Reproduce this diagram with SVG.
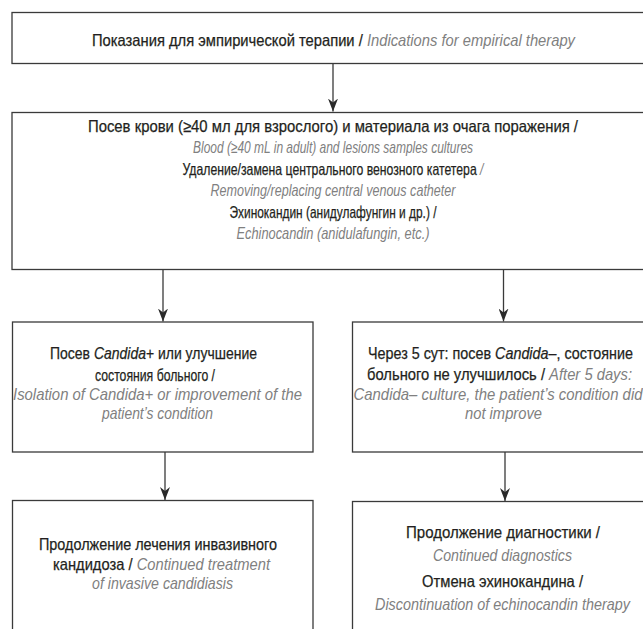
<svg xmlns="http://www.w3.org/2000/svg" width="643" height="629" viewBox="0 0 643 629">
<defs>
<style>
.box{fill:#ffffff;stroke:#3a3a3a;stroke-width:1.3}
.c{stroke:#3a3a3a;stroke-width:1.3;fill:none}
text{font-family:"Liberation Sans Narrow","Liberation Sans",Arial,sans-serif;font-size:16.5px;fill:#231f20;stroke:#231f20;stroke-width:0.25;text-anchor:middle}
.g{fill:#808080;stroke:none;font-style:italic}
.i{font-style:italic}
</style>
<marker id="ah" viewBox="0 0 13 10" refX="13" refY="5" markerWidth="13" markerHeight="10" markerUnits="userSpaceOnUse" orient="auto">
<path d="M0,0 L13,5 L0,10 L4,5 z" fill="#2a2a2a"/>
</marker>
</defs>
<rect width="643" height="629" fill="#ffffff"/>
<g id="connectors">
<line class="c" x1="333" y1="63" x2="333" y2="111.5" marker-end="url(#ah)"/>
<line class="c" x1="163" y1="270" x2="163" y2="321.5" marker-end="url(#ah)"/>
<line class="c" x1="503.5" y1="270" x2="503.5" y2="321.5" marker-end="url(#ah)"/>
<line class="c" x1="165" y1="452" x2="165" y2="500" marker-end="url(#ah)"/>
<line class="c" x1="505" y1="452" x2="505" y2="501" marker-end="url(#ah)"/>
</g>
<g id="n1">
<rect class="box" x="12" y="12.5" width="660" height="51"/>
<text x="333.5" y="46" textLength="483" lengthAdjust="spacingAndGlyphs">Показания для эмпирической терапии / <tspan class="g">Indications for empirical therapy</tspan></text>
</g>
<g id="n2">
<rect class="box" x="12" y="112.5" width="660" height="157"/>
<text x="333" y="132" textLength="490" lengthAdjust="spacingAndGlyphs">Посев крови (≥40 мл для взрослого) и материала из очага поражения /</text>
<text class="g" x="333" y="153" textLength="280" lengthAdjust="spacingAndGlyphs">Blood (≥40 mL in adult) and lesions samples cultures</text>
<text x="333" y="175" textLength="301" lengthAdjust="spacingAndGlyphs">Удаление/замена центрального венозного катетера <tspan class="g">/</tspan></text>
<text class="g" x="333" y="196" textLength="245" lengthAdjust="spacingAndGlyphs">Removing/replacing central venous catheter</text>
<text x="333" y="218" textLength="207" lengthAdjust="spacingAndGlyphs">Эхинокандин (анидулафунгин и др.) /</text>
<text class="g" x="333" y="239" textLength="193" lengthAdjust="spacingAndGlyphs">Echinocandin (anidulafungin, etc.)</text>
</g>
<g id="n3">
<rect class="box" x="12.5" y="322" width="300.5" height="130"/>
<text x="153.5" y="359" textLength="207" lengthAdjust="spacingAndGlyphs">Посев <tspan class="i">Candida</tspan>+ или улучшение</text>
<text x="155" y="381" textLength="120" lengthAdjust="spacingAndGlyphs">состояния больного /</text>
<text class="g" x="157.5" y="400" textLength="289" lengthAdjust="spacingAndGlyphs">Isolation of Candida+ or improvement of the</text>
<text class="g" x="157.5" y="419" textLength="111" lengthAdjust="spacingAndGlyphs">patient’s condition</text>
</g>
<g id="n4">
<rect class="box" x="352.5" y="322" width="320" height="130"/>
<text x="500.5" y="359" textLength="265" lengthAdjust="spacingAndGlyphs">Через 5 сут: посев <tspan class="i">Candida</tspan>–, состояние</text>
<text x="499.5" y="380" textLength="265" lengthAdjust="spacingAndGlyphs">больного не улучшилось / <tspan class="g">After 5 days:</tspan></text>
<text class="g" x="498" y="400" textLength="289" lengthAdjust="spacingAndGlyphs">Candida– culture, the patient’s condition did</text>
<text class="g" x="503.5" y="419" textLength="77" lengthAdjust="spacingAndGlyphs">not improve</text>
</g>
<g id="n5">
<rect class="box" x="12.5" y="500.5" width="300.5" height="200"/>
<text x="158" y="550" textLength="238" lengthAdjust="spacingAndGlyphs">Продолжение лечения инвазивного</text>
<text x="161.5" y="570" textLength="217" lengthAdjust="spacingAndGlyphs">кандидоза / <tspan class="g">Continued treatment</tspan></text>
<text class="g" x="162.5" y="589" textLength="141" lengthAdjust="spacingAndGlyphs">of invasive candidiasis</text>
</g>
<g id="n6">
<rect class="box" x="352.5" y="501.5" width="320" height="200"/>
<text x="503" y="538" textLength="194" lengthAdjust="spacingAndGlyphs">Продолжение диагностики /</text>
<text class="g" x="502.5" y="561" textLength="139" lengthAdjust="spacingAndGlyphs">Continued diagnostics</text>
<text x="502.5" y="587" textLength="161" lengthAdjust="spacingAndGlyphs">Отмена эхинокандина /</text>
<text class="g" x="502.5" y="610" textLength="255" lengthAdjust="spacingAndGlyphs">Discontinuation of echinocandin therapy</text>
</g>
</svg>
